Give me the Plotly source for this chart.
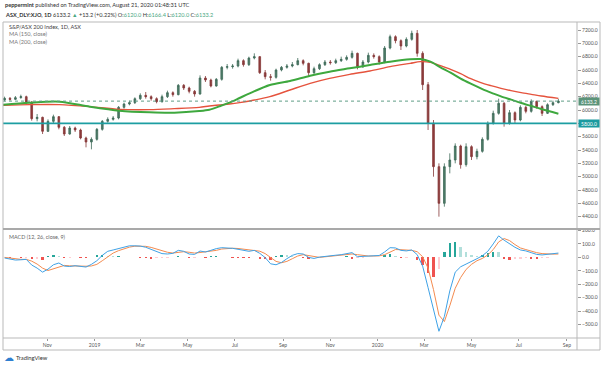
import pandas as pd
import plotly.graph_objects as go

# ---------------- data ----------------
week_end = pd.date_range("2018-09-07", "2020-08-21", freq="W-FRI")  # weekly bars
first_open = 6150
closes = [6175, 6160, 6185, 6200, 6120, 5870, 5890, 5680, 5830, 5900,
          5740, 5640, 5730, 5700, 5580, 5520, 5560, 5710, 5830, 5860,
          5880, 6040, 6090, 6110, 6170, 6220, 6200, 6170, 6125, 6200,
          6260, 6230, 6370, 6330, 6280, 6240, 6480, 6450, 6360, 6460,
          6640, 6650, 6660, 6740, 6680, 6780, 6800, 6560, 6500, 6490,
          6600, 6640, 6660, 6680, 6740, 6700, 6560, 6620, 6680, 6720,
          6710, 6740, 6760, 6790, 6850, 6650, 6720, 6820, 6800, 6720,
          6930, 7100, 7040, 6960, 7060, 7150, 6850, 6380, 5800, 5150,
          4600, 5150, 5250, 5460, 5180, 5450, 5300, 5380, 5560, 5800,
          5950, 6100, 5800, 5960, 5850, 6040, 5980, 6130, 6050, 5950,
          6080, 6110, 6133.2]
highs = [6200, 6195, 6210, 6230, 6215, 6130, 5940, 5900, 5860, 5930,
         5910, 5760, 5760, 5750, 5720, 5600, 5590, 5730, 5850, 5890,
         5910, 6060, 6110, 6140, 6190, 6250, 6270, 6220, 6190, 6230,
         6290, 6280, 6390, 6390, 6350, 6300, 6520, 6510, 6470, 6480,
         6660, 6690, 6690, 6770, 6760, 6800, 6850, 6810, 6600, 6540,
         6620, 6660, 6690, 6720, 6780, 6760, 6710, 6650, 6700, 6750,
         6750, 6770, 6800, 6820, 6890, 6860, 6750, 6860, 6850, 6820,
         6960, 7130, 7120, 7060, 7090, 7190, 7200, 6880, 6420, 5850,
         5200, 5200, 5350, 5500, 5480, 5500, 5470, 5420, 5590, 5830,
         5990, 6170, 6120, 6000, 5980, 6070, 6060, 6160, 6140, 6070,
         6100, 6140, 6166.4]
lows = [6130, 6140, 6150, 6170, 6080, 5840, 5830, 5640, 5670, 5800,
        5710, 5610, 5630, 5670, 5560, 5440, 5410, 5540, 5690, 5810,
        5840, 5860, 6020, 6070, 6090, 6150, 6170, 6140, 6100, 6110,
        6180, 6200, 6220, 6300, 6250, 6200, 6230, 6420, 6340, 6350,
        6440, 6610, 6620, 6640, 6650, 6660, 6760, 6540, 6460, 6440,
        6470, 6580, 6620, 6640, 6670, 6670, 6510, 6540, 6600, 6660,
        6680, 6690, 6720, 6740, 6770, 6610, 6630, 6700, 6770, 6680,
        6700, 6910, 7000, 6900, 6940, 7040, 6800, 6300, 5700, 5000,
        4400, 4550, 5050, 5200, 5120, 5150, 5250, 5260, 5360, 5540,
        5780, 5930, 5750, 5780, 5800, 5830, 5950, 5960, 6020, 5910,
        5940, 6060, 6100]
opens = [first_open] + closes[:-1]

ma_dates = ["2018-09-05", "2018-10-09", "2018-11-17", "2018-12-26", "2019-02-02",
            "2019-03-13", "2019-04-14", "2019-05-16", "2019-05-29", "2019-06-11",
            "2019-06-24", "2019-07-07", "2019-07-20", "2019-08-15", "2019-09-10",
            "2019-10-06", "2019-10-31", "2019-11-26", "2019-12-22", "2020-01-17",
            "2020-02-12", "2020-02-25", "2020-03-09", "2020-03-22", "2020-04-04",
            "2020-04-17", "2020-04-30", "2020-05-13", "2020-05-26", "2020-06-08",
            "2020-06-21", "2020-07-04", "2020-07-17", "2020-07-30", "2020-08-21"]
ma150 = [6080, 6110, 6125, 6050, 5990, 5965, 5960, 5985, 6005, 6055,
         6110, 6180, 6250, 6375, 6435, 6515, 6575, 6625, 6675, 6725,
         6762, 6765, 6725, 6640, 6560, 6470, 6395, 6325, 6260, 6205,
         6155, 6105, 6060, 6015, 5945]
ma200 = [6070, 6080, 6080, 6050, 6010, 6005, 6020, 6040, 6060, 6075,
         6090, 6110, 6135, 6200, 6300, 6400, 6475, 6535, 6585, 6650,
         6700, 6725, 6715, 6665, 6610, 6545, 6470, 6410, 6365, 6325,
         6290, 6260, 6235, 6210, 6175]

macd = [-5, -15, -20, -18, -15, -57, -80, -110, -88, -55,
        -42, -65, -68, -62, -66, -72, -52, -25, 15, 45,
        55, 65, 78, 86, 86, 84, 75, 60, 42, 28,
        25, 30, 52, 45, 25, 22, 47, 40, 52, 65,
        72, 70, 67, 60, 50, 45, 52, 30, -2, -48,
        -55, -38, -10, 15, 28, 25, 0, -8, 2, 8,
        12, 16, 20, 25, 35, 5, 8, 8, 10, 14,
        40, 72, 70, 52, 48, 55, 20, -65, -225, -390,
        -550, -440, -250, -110, -70, -50, -32, -10, 12, 45,
        100, 160, 128, 100, 75, 55, 48, 35, 22, 18,
        24, 30, 32]
signal = [0, -6, -12, -15, -15, -28, -50, -80, -98, -85,
          -68, -60, -63, -65, -64, -66, -64, -52, -25, 5,
          32, 50, 64, 76, 83, 85, 82, 74, 62, 48,
          38, 32, 38, 42, 38, 32, 36, 42, 44, 52,
          62, 67, 68, 66, 60, 54, 52, 46, 28, 0,
          -30, -40, -30, -10, 10, 20, 15, 5, 0, 4,
          8, 12, 15, 19, 25, 20, 13, 10, 10, 11,
          20, 42, 58, 57, 53, 52, 42, 5, -80, -240,
          -430, -478, -360, -230, -150, -90, -52, -25, -8, 18,
          58, 115, 140, 125, 95, 70, 58, 46, 35, 28,
          25, 24, 25]
hist = [3, -4, 2, -5, -3, -15, -12, -18, 10, 14,
        8, -5, -4, 3, -3, -6, 6, 15, 18, 12,
        8, 10, 6, 5, 3, -3, -6, -10, -8, -6,
        -4, 5, 8, 6, -7, -5, 6, -3, 8, 10,
        5, 3, -3, -5, -7, -8, 5, -10, -15, -18,
        8, 15, 14, 8, 4, -6, -10, 3, 6, 5,
        4, 5, 6, 8, -12, -8, -3, 2, 3, 6,
        15, 22, 8, -6, -4, 3, -20, -60, -120, -145,
        -90, 40, 105, 115, 80, 40, 20, 12, 18, 30,
        42, 40, -10, -18, -15, -12, -8, -10, -12, -8,
        -5, 4, 6]

price_ticks = [4400, 4600, 4800, 5000, 5200, 5400, 5600, 5800, 6000,
               6200, 6400, 6600, 6800, 7000, 7200]
macd_ticks = [-500, -400, -300, -200, -100, 0, 100, 200]
month_ticks = ["2018-11-01", "2019-01-01", "2019-03-01", "2019-05-01", "2019-07-01",
               "2019-09-01", "2019-11-01", "2020-01-01", "2020-03-01", "2020-05-01",
               "2020-07-01", "2020-09-01"]
month_labels = ["Nov", "2019", "Mar", "May", "Jul", "Sep", "Nov", "2020",
                "Mar", "May", "Jul", "Sep"]
support_level = 5800.0
last_close = 6133.2

# ---------------- figure ----------------
W, H = 602, 366
PL, PT, PW, PH = 3, 22, 574, 316
SPLIT = 109 / 316.0

def px(x):
    return (x - PL) / PW

def py(y):
    return (PT + PH - y) / PH

hist_colors = []
for i, h in enumerate(hist):
    prev = hist[i - 1] if i else 0
    if h >= 0:
        hist_colors.append("#26a69a" if h >= prev else "#b2dfdb")
    else:
        hist_colors.append("#ef5350" if h < prev else "#ffcdd2")

fig = go.Figure()
fig.add_trace(go.Scatter(x=ma_dates, y=ma200, mode="lines", yaxis="y",
                         line=dict(color="#e5533d", width=1.4, shape="spline", smoothing=0.8)))
fig.add_trace(go.Scatter(x=ma_dates, y=ma150, mode="lines", yaxis="y",
                         line=dict(color="#3ea83e", width=2, shape="spline", smoothing=0.8)))
fig.add_trace(go.Candlestick(
    x=week_end, open=opens, high=highs, low=lows, close=closes, yaxis="y",
    whiskerwidth=0,
    increasing=dict(line=dict(color="#3d6a58", width=0.8), fillcolor="#4f7d69"),
    decreasing=dict(line=dict(color="#863838", width=0.8), fillcolor="#8e3b3b"),
))
fig.add_trace(go.Bar(x=week_end, y=hist, yaxis="y2", marker=dict(color=hist_colors, line=dict(width=0)),
                     width=3 * 86400000))
fig.add_trace(go.Scatter(x=week_end, y=signal, mode="lines", yaxis="y2",
                         line=dict(color="#f48b4f", width=1)))
fig.add_trace(go.Scatter(x=week_end, y=macd, mode="lines", yaxis="y2",
                         line=dict(color="#3fa2e6", width=1)))

axis_font = dict(family="Lato", size=5, color="#555")
fig.update_layout(
    template="none",
    width=W, height=H,
    margin=dict(l=PL, r=W - PL - PW, t=PT, b=H - PT - PH),
    paper_bgcolor="white", plot_bgcolor="white",
    showlegend=False, hovermode=False,
    bargap=0, boxgap=0.55,
    xaxis=dict(type="date", range=["2018-09-05", "2020-09-14"], anchor="y2",
               tickvals=month_ticks, ticktext=month_labels, tickfont=axis_font,
               ticks="outside", ticklen=2, tickcolor="#999", showgrid=False,
               zeroline=False, showline=False, rangeslider=dict(visible=False),
               automargin=False),
    yaxis=dict(domain=[SPLIT, 1], side="right", range=[4215, 7320],
               tickvals=price_ticks, tickformat=".1f", tickfont=axis_font,
               ticks="outside", ticklen=3, tickcolor="#999", showgrid=False,
               zeroline=False, showline=False, automargin=False),
    yaxis2=dict(domain=[0, SPLIT], side="right", range=[-600, 211],
                tickvals=macd_ticks, tickformat=".1f", tickfont=axis_font,
                ticks="outside", ticklen=3, tickcolor="#999", showgrid=False,
                zeroline=False, showline=False, automargin=False),
)

frame = "#b9b9b9"
shapes = [
    dict(type="line", xref="paper", yref="y", x0=0, x1=1, y0=support_level, y1=support_level,
         line=dict(color="#1d9ea2", width=1.6)),
    dict(type="line", xref="paper", yref="y", x0=0, x1=1, y0=last_close, y1=last_close,
         line=dict(color="#5f9e86", width=1, dash="dot")),
    dict(type="rect", xref="paper", yref="paper", x0=0, x1=px(600), y0=py(350), y1=1,
         line=dict(color=frame, width=1)),
    dict(type="line", xref="paper", yref="paper", x0=1, x1=1, y0=py(350), y1=1,
         line=dict(color=frame, width=1)),
    dict(type="line", xref="paper", yref="paper", x0=0, x1=px(600), y0=0, y1=0,
         line=dict(color=frame, width=1)),
    dict(type="line", xref="paper", yref="paper", x0=0, x1=px(600), y0=SPLIT, y1=SPLIT,
         line=dict(color="#a9a9a9", width=2)),
]
fig.update_layout(shapes=shapes)

txt = dict(family="Lato", size=5.6, color="#333")
green = "#4aa883"
ann = [
    dict(x=px(3), y=py(5),
         text="<b>peppermint</b> published on TradingView.com, August 21, 2020 01:48:31 UTC"),
    dict(x=px(3), y=py(14),
         text=("<b>ASX_DLY:XJO, 1D</b> 6133.2 <span style='color:%s'>▲</span> +13.2 (+0.22%%) "
               "O:<span style='color:%s'>6120.0</span> H:<span style='color:%s'>6166.4</span> "
               "L:<span style='color:%s'>6120.0</span> C:<span style='color:%s'>6133.2</span>")
         % (green, green, green, green, green)),
    dict(x=px(7), y=py(27), text="S&P/ASX 200 Index, 1D, ASX", font=dict(family="Lato", size=5.6, color="#444")),
    dict(x=px(7), y=py(34), text="MA (150, close)", font=dict(family="Lato", size=5.6, color="#777")),
    dict(x=px(7), y=py(41), text="MA (200, close)", font=dict(family="Lato", size=5.6, color="#777")),
    dict(x=px(7), y=py(237), text="MACD (12, 26, close, 9)", font=dict(family="Lato", size=5.4, color="#666")),
    dict(x=px(14), y=py(358), text="TradingView", font=dict(family="Lato", size=5.8, color="#333")),
    dict(x=px(2), y=py(358), text="☁", font=dict(family="DejaVu Sans", size=10, color="#2f7fd0")),
]
annotations = []
for a in ann:
    d = dict(xref="paper", yref="paper", xanchor="left", yanchor="middle",
             showarrow=False, font=txt)
    d.update(a)
    annotations.append(d)
for val, col in [(last_close, "#5b9379"), (support_level, "#1b9aa0")]:
    annotations.append(dict(xref="paper", yref="y", x=1, y=val, xanchor="left", yanchor="middle",
                            xshift=1, showarrow=False, text="%.1f" % val,
                            font=dict(family="Lato", size=5, color="white"),
                            bgcolor=col, width=20, height=7, borderpad=0))
fig.update_layout(annotations=annotations)

fig.write_html("out.html", config={"displayModeBar": False, "staticPlot": True},
               post_script="document.body.style.margin='0';document.body.style.overflow='hidden';")
